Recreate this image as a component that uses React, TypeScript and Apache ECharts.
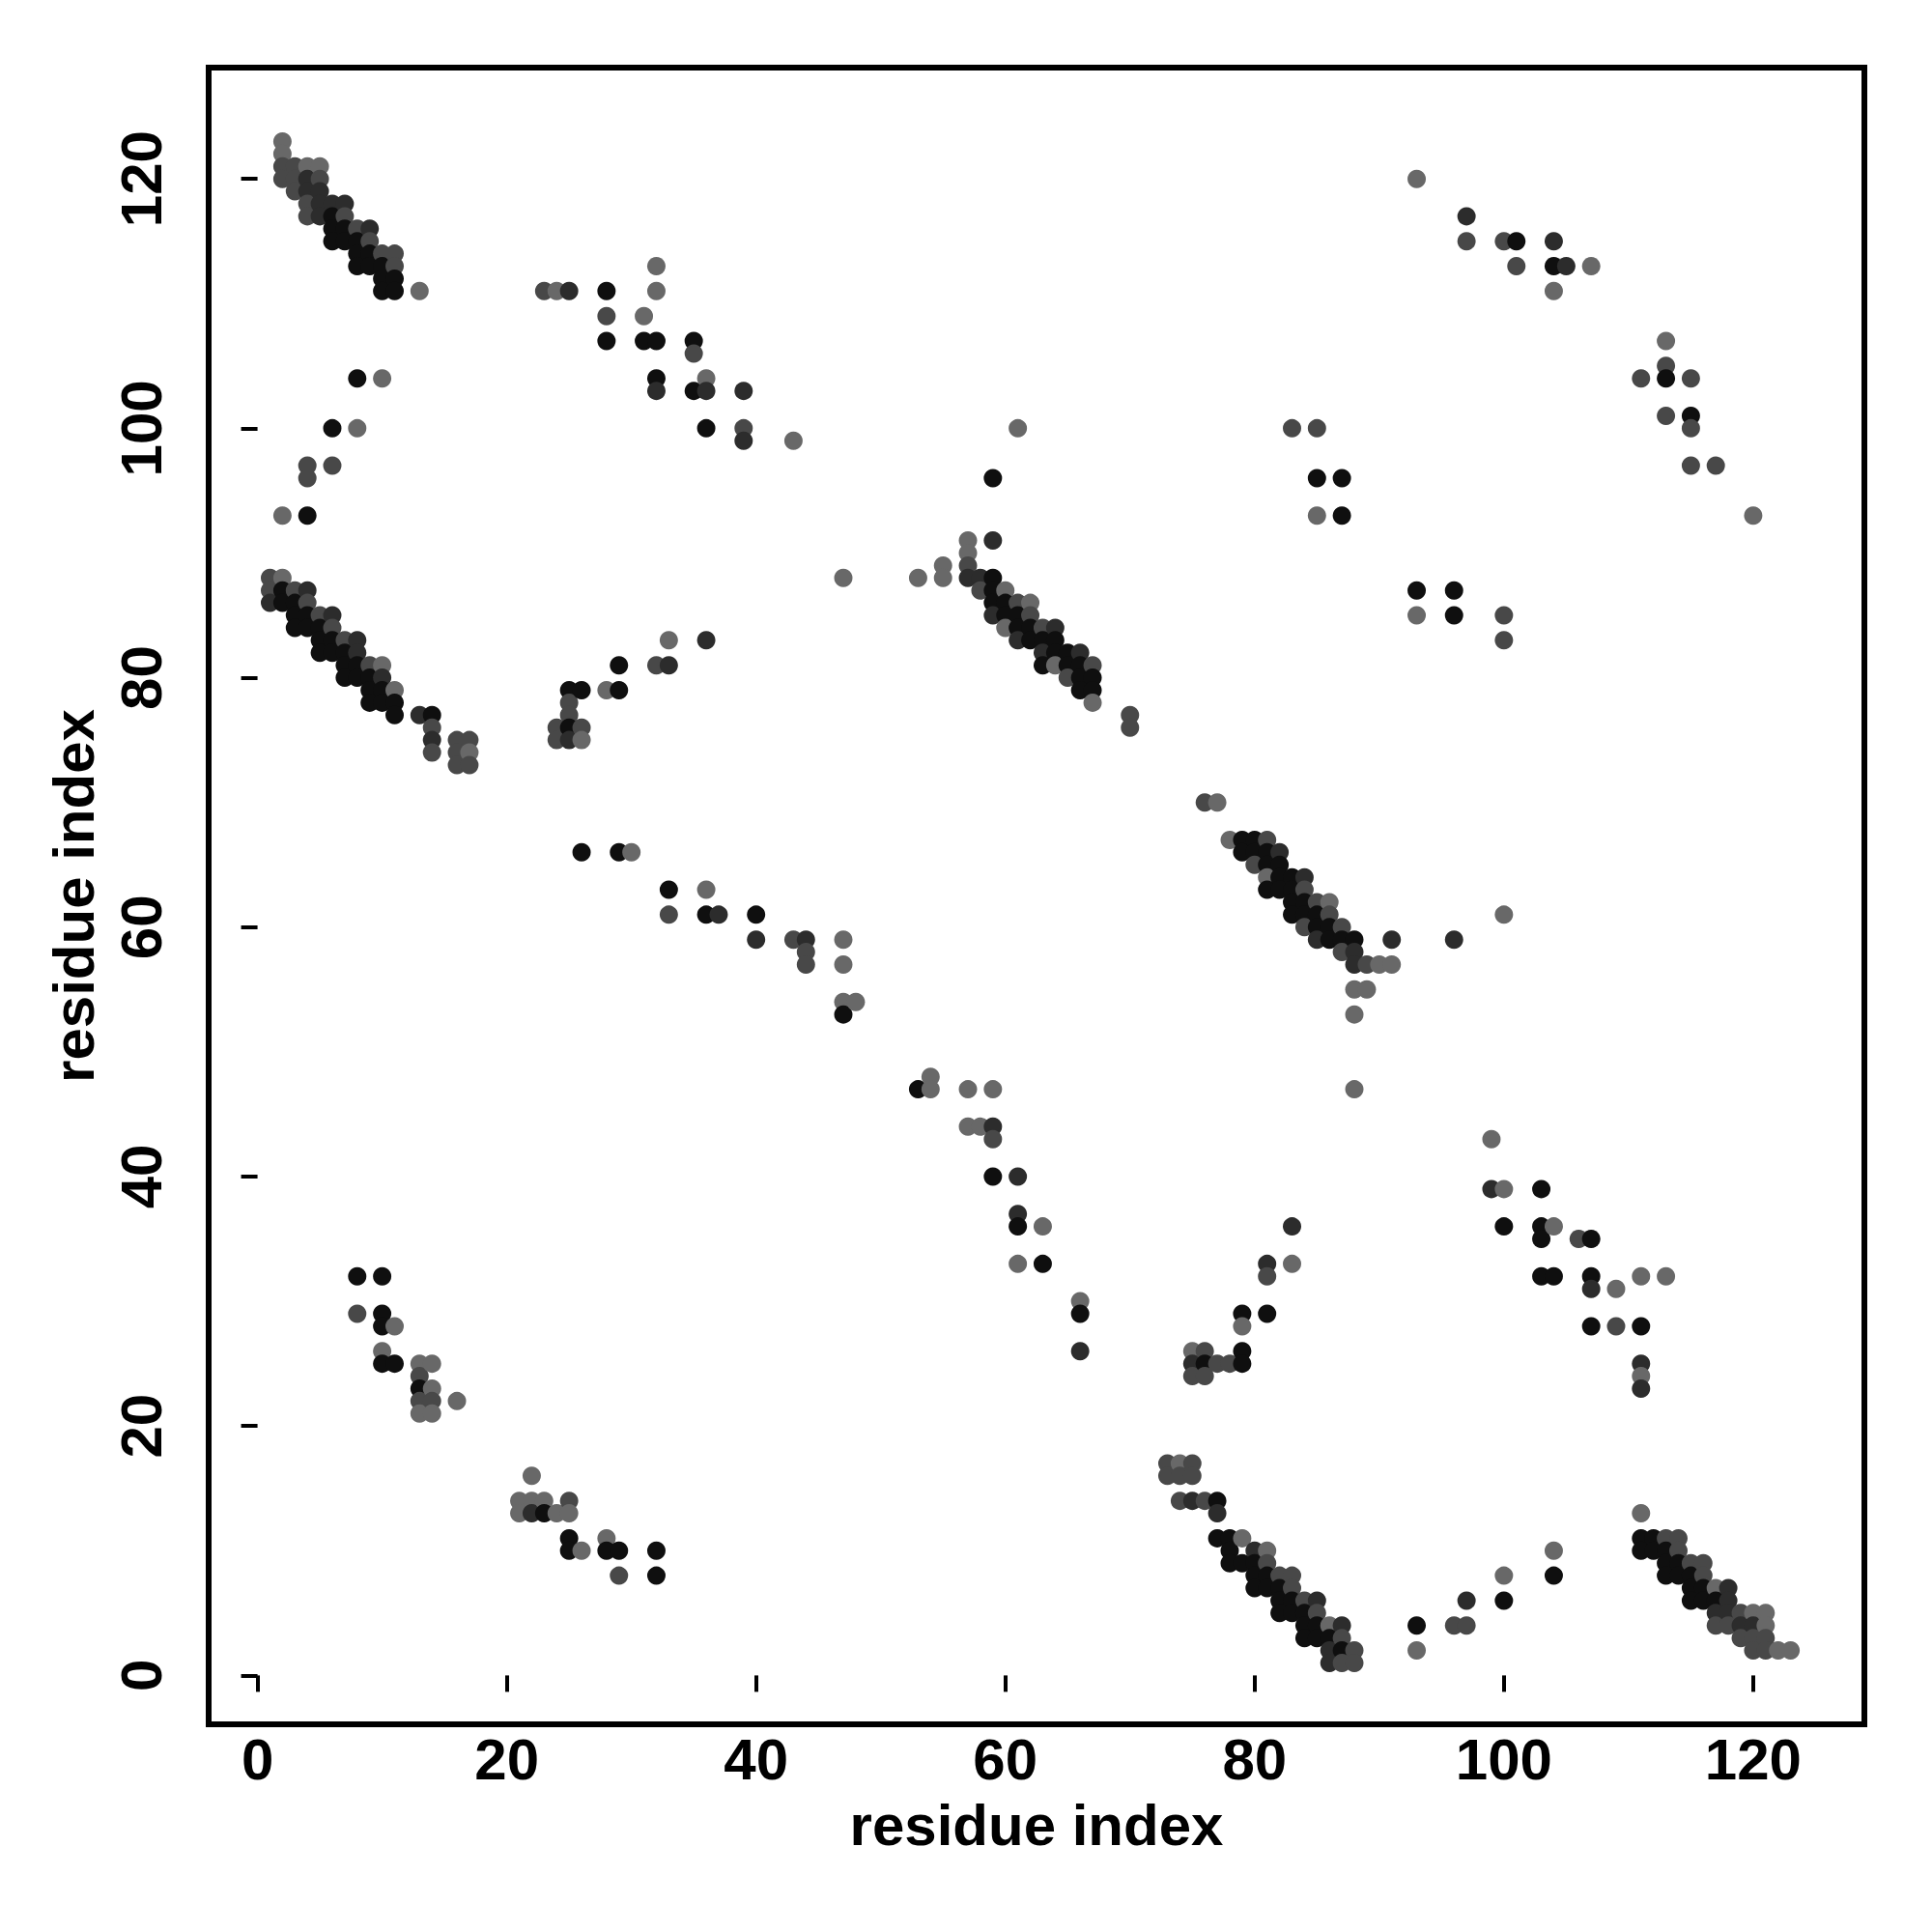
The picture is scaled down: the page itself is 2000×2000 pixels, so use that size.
import React, { useEffect, useRef } from "react";
import * as echarts from "echarts";

// each point: [residue i, residue j, shade level 0 (darkest) .. 3 (lightest)]
type P = [number, number, number];

const bandTopLeft: P[] = [
  [2,123,3],[2,122,3],
  [2,121,2],[3,121,2],[4,121,3],[5,121,3],
  [2,120,2],[3,120,2],[4,120,1],[5,120,2],
  [3,119,2],[4,119,1],[5,119,1],
  [4,118,2],[5,118,1],[6,118,1],[7,118,1],
  [4,117,2],[5,117,1],[6,117,0],[7,117,2],
  [6,116,0],[7,116,0],[8,116,2],[9,116,1],
  [6,115,0],[7,115,0],[8,115,0],[9,115,2],
  [8,114,0],[9,114,0],[10,114,2],[11,114,2],
  [8,113,0],[9,113,0],[10,113,0],[11,113,2],
  [10,112,0],[11,112,0],
  [10,111,0],[11,111,0],[13,111,3],
];

const bandLeft: P[] = [
  [1,88,2],[2,88,3],
  [1,87,2],[2,87,0],[3,87,2],[4,87,1],
  [1,86,1],[2,86,0],[3,86,0],[4,86,2],
  [3,85,0],[4,85,0],[5,85,2],[6,85,1],
  [3,84,0],[4,84,0],[5,84,0],[6,84,2],
  [5,83,0],[6,83,0],[7,83,2],[8,83,1],
  [5,82,0],[6,82,0],[7,82,0],[8,82,1],
  [7,81,0],[8,81,0],[9,81,2],[10,81,3],
  [7,80,0],[8,80,0],[9,80,0],[10,80,1],
  [9,79,0],[10,79,0],[11,79,3],
  [9,78,0],[10,78,0],[11,78,0],
  [11,77,0],[13,77,1],[14,77,0],
  [14,76,2],[14,75,1],[14,74,2],
  [16,75,2],[17,75,2],[16,74,2],[17,74,3],[16,73,2],[17,73,2],
];

const sparseUpperLeft: P[] = [
  [8,104,0],[10,104,3],[6,100,0],[8,100,3],[4,97,2],[6,97,2],[4,96,2],[2,93,3],[4,93,0],
];

const sparseTopMiddle: P[] = [
  [32,113,3],[23,111,2],[24,111,3],[25,111,1],[28,111,0],[32,111,3],
  [28,109,2],[31,109,3],[28,107,0],[31,107,0],[32,107,0],[35,107,0],[35,106,2],
  [32,104,0],[36,104,3],[32,103,1],[35,103,0],[36,103,1],[39,103,1],
  [36,100,0],[39,100,2],[39,99,1],[43,99,3],
];

const sparseMidLeft: P[] = [
  [33,83,3],[36,83,1],[29,81,0],[32,81,2],[33,81,1],
  [25,79,0],[26,79,0],[28,79,3],[29,79,0],[25,78,2],[25,77,2],
  [24,76,2],[25,76,0],[26,76,2],[24,75,2],[25,75,1],[26,75,3],
];

const sparseMidDiagonal: P[] = [
  [26,66,0],[29,66,0],[30,66,3],[33,63,0],[33,61,2],[36,63,3],[36,61,0],[37,61,1],
  [40,61,0],[40,59,1],[43,59,2],[44,59,1],[44,58,2],[44,57,2],[47,59,3],[47,57,3],
  [47,54,3],[48,54,3],[47,53,0],
];

const sparseCenter: P[] = [
  [53,47,0],[54,48,3],[54,47,3],[57,47,3],[59,47,3],[57,44,3],[58,44,3],[59,44,1],[59,43,2],
  [59,40,0],[61,40,1],[61,37,1],[61,36,0],[63,36,3],[61,33,3],[63,33,0],
  [66,30,3],[66,29,0],[66,26,1],
];

const bandCenter: P[] = [
  [47,88,3],[59,96,0],[61,100,3],
  [57,91,3],[59,91,1],[57,90,3],[55,89,3],[57,89,2],
  [53,88,3],[55,88,3],[57,88,1],[58,88,1],[59,88,0],
  [58,87,2],[59,87,0],[60,87,3],
  [59,86,0],[60,86,0],[61,86,2],[62,86,3],
  [59,85,1],[60,85,0],[61,85,0],[62,85,2],
  [60,84,3],[61,84,0],[62,84,0],[63,84,2],[64,84,1],
  [61,83,1],[62,83,0],[63,83,0],[64,83,0],
  [63,82,1],[64,82,0],[65,82,0],[66,82,1],
  [63,81,0],[64,81,3],[65,81,0],[66,81,0],[67,81,2],
  [65,80,2],[66,80,0],[67,80,0],
  [66,79,0],[67,79,0],[67,78,3],
  [70,77,2],[70,76,2],
];

const bandMidRight: P[] = [
  [76,70,2],[77,70,3],
  [78,67,3],[79,67,0],[80,67,0],[81,67,2],
  [79,66,0],[80,66,0],[81,66,0],[82,66,1],
  [80,65,2],[81,65,0],[82,65,0],
  [81,64,3],[82,64,0],[83,64,0],[84,64,1],
  [81,63,0],[82,63,0],[83,63,0],[84,63,2],
  [83,62,0],[84,62,0],[85,62,2],[86,62,3],
  [83,61,0],[84,61,0],[85,61,0],[86,61,2],
  [84,60,2],[85,60,0],[86,60,0],[87,60,2],
  [85,59,1],[86,59,0],[87,59,0],[88,59,0],[91,59,1],
  [87,58,2],[88,58,1],
  [88,57,1],[89,57,2],[90,57,3],[91,57,3],
  [88,55,3],[89,55,3],[88,53,3],[88,47,3],
];

const bandBottom: P[] = [
  [73,17,2],[74,17,3],[75,17,2],[73,16,2],[74,16,2],[75,16,2],
  [74,14,2],[75,14,1],[76,14,2],[77,14,0],[77,13,1],
  [77,11,0],[78,11,0],[79,11,3],
  [78,10,0],[80,10,1],[81,10,3],
  [78,9,0],[79,9,0],[80,9,0],[81,9,2],
  [80,8,0],[81,8,0],[82,8,2],[83,8,2],
  [80,7,0],[81,7,0],[82,7,0],[83,7,2],
  [82,6,0],[83,6,0],[84,6,2],[85,6,1],
  [82,5,0],[83,5,0],[84,5,0],[85,5,2],
  [84,4,0],[85,4,0],[86,4,3],[87,4,1],
  [84,3,0],[85,3,0],[86,3,0],[87,3,2],
  [86,2,1],[87,2,0],[88,2,2],
  [86,1,1],[87,1,2],[88,1,2],
];

const bandBottomRight: P[] = [
  [111,13,3],
  [111,11,0],[112,11,0],[113,11,2],[114,11,2],
  [111,10,0],[112,10,0],[113,10,0],[114,10,2],
  [113,9,0],[114,9,0],[115,9,2],[116,9,2],
  [113,8,0],[114,8,0],[115,8,0],[116,8,2],
  [115,7,0],[116,7,0],[117,7,3],[118,7,1],
  [115,6,0],[116,6,0],[117,6,0],[118,6,1],
  [117,5,1],[118,5,1],[119,5,2],[120,5,3],[121,5,3],
  [117,4,2],[118,4,2],[119,4,1],[120,4,1],[121,4,3],
  [119,3,2],[120,3,2],[121,3,2],
  [120,2,2],[121,2,2],[122,2,3],[123,2,3],
];

const sparseBottomLeft: P[] = [
  [8,32,0],[10,32,0],[8,29,2],[10,29,0],[10,28,0],[11,28,3],[10,26,3],[10,25,0],[11,25,0],
  [13,25,3],[14,25,3],[13,24,2],[13,23,0],[14,23,3],[13,22,2],[14,22,2],[13,21,3],[14,21,3],[16,22,3],
  [22,16,3],[21,14,3],[22,14,3],[23,14,3],[25,14,2],
  [21,13,3],[22,13,1],[23,13,0],[24,13,3],[25,13,3],
  [25,11,0],[25,10,0],[26,10,3],[28,11,3],[28,10,0],[29,10,0],[29,8,2],[32,10,0],[32,8,0],
];

const sparseBottomMid: P[] = [
  [93,4,0],[93,2,3],[96,4,2],[97,4,2],[97,6,1],[100,8,3],[100,6,0],[104,10,3],[104,8,0],
  [83,36,1],[81,33,1],[83,33,3],[81,32,2],[79,29,0],[81,29,0],[79,28,3],[79,26,0],[79,25,0],
  [75,26,3],[76,26,2],[75,25,1],[76,25,0],[77,25,2],[78,25,2],[75,24,2],[76,24,2],
];

const sparseLowerRight: P[] = [
  [99,43,3],[99,39,1],[100,39,3],[103,39,0],[100,36,0],[103,36,0],[104,36,3],[103,35,0],
  [106,35,2],[107,35,0],[103,32,0],[104,32,0],[107,32,0],[107,31,1],[109,31,3],[111,32,3],
  [113,32,3],[107,28,0],[109,28,2],[111,28,0],[111,25,1],[111,24,3],[111,23,1],
];

const sparseUpperRight: P[] = [
  [93,120,3],[97,117,1],[97,115,2],[100,115,2],[101,115,0],[101,113,2],[104,115,1],[104,113,0],
  [104,111,3],[105,113,1],[107,113,3],[111,104,2],[113,107,3],[113,105,2],[113,104,0],[115,104,2],
  [113,101,2],[115,101,0],[115,100,2],[115,97,2],[117,97,2],[120,93,3],
  [83,100,2],[85,100,2],[85,96,0],[87,96,0],[85,93,3],[87,93,0],
  [93,87,0],[93,85,3],[96,87,0],[96,85,0],[100,85,2],[100,83,2],[96,59,1],[100,61,3],
];

const shades = ["#0f0f0f", "#2c2c2c", "#484848", "#686868"];
const tickValues = [0, 20, 40, 60, 80, 100, 120];
const axisTitle = "residue index";

export default function App() {
  const ref = useRef<HTMLDivElement>(null);
  useEffect(() => {
    document.body.style.margin = "0";
    const chart = echarts.init(ref.current!, null, { renderer: "svg" });
    const all: P[] = [
      ...bandTopLeft, ...bandLeft, ...sparseUpperLeft, ...sparseTopMiddle, ...sparseMidLeft,
      ...sparseMidDiagonal, ...sparseCenter, ...bandCenter, ...bandMidRight, ...bandBottom,
      ...bandBottomRight, ...sparseBottomLeft, ...sparseBottomMid, ...sparseLowerRight, ...sparseUpperRight,
    ].sort((a, b) => a[0] - b[0] || b[1] - a[1]);

    const font = { fontFamily: "Liberation Sans", fontWeight: "bold" as const, fontSize: 60, color: "#000" };
    const mkAxis = (isY: boolean) => ({
      type: "value",
      min: -3.92,
      max: 128.92,
      splitLine: { show: false },
      axisLine: { show: false },
      axisTick: { show: true, inside: false, length: 17, customValues: tickValues, lineStyle: { color: "#000", width: 4 } },
      axisLabel: {
        ...font,
        customValues: tickValues,
        margin: isY ? 40 : 6,
        rotate: isY ? 90 : 0,
      },
      name: axisTitle,
      nameLocation: "middle",
      nameGap: isY ? 110 : 74,
      nameTextStyle: font,
    });

    chart.setOption({
      animation: false,
      backgroundColor: "#fff",
      grid: { left: 216, top: 70, width: 1714, height: 1715, show: true, borderColor: "#000", borderWidth: 6, backgroundColor: "transparent" },
      xAxis: mkAxis(false),
      yAxis: mkAxis(true),
      series: [
        {
          type: "scatter",
          symbol: "circle",
          symbolSize: 19,
          itemStyle: { opacity: 1 },
          data: all.map((p) => ({ value: [p[0], p[1]], itemStyle: { color: shades[p[2]], opacity: 1 } })),
        },
      ],
    });
    return () => chart.dispose();
  }, []);
  return <div ref={ref} style={{ width: 2000, height: 2000 }} />;
}
